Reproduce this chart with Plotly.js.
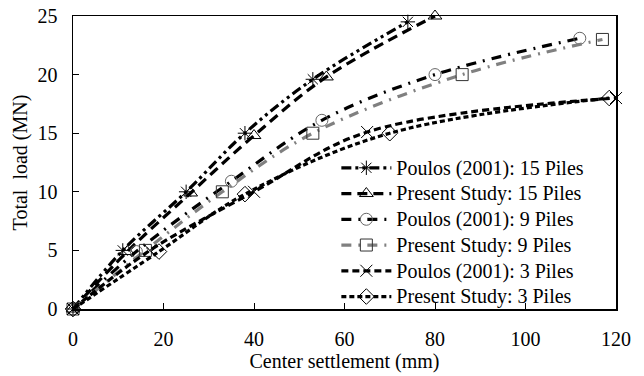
<!DOCTYPE html>
<html>
<head>
<meta charset="utf-8">
<script src="https://cdn.plot.ly/plotly-3.0.1.min.js"></script>
<style>html,body{margin:0;padding:0;background:#fff;}#chart{width:644px;height:376px;}</style>
</head>
<body>
<div id="chart"></div>
<script>
var seriesNames = ["Poulos (2001): 15 Piles", "Present Study: 15 Piles", "Poulos (2001): 9 Piles", "Present Study: 9 Piles", "Poulos (2001): 3 Piles", "Present Study: 3 Piles"];
var poulos15X = [0, 11, 25, 38, 53, 74];
var poulos15Y = [0, 5, 10, 15, 19.6, 24.5];
var present15X = [0, 12, 26, 40, 56, 80];
var present15Y = [0, 4.9, 9.9, 14.8, 19.8, 25];
var poulos9X = [0, 14, 35, 55, 80, 112];
var poulos9Y = [0, 4.9, 10.9, 16.1, 20, 23.1];
var present9X = [0, 16, 33, 53, 86, 117];
var present9Y = [0, 5, 10, 15, 20, 23];
var poulos3X = [0, 17, 40, 65, 120];
var poulos3Y = [0, 5, 10, 15.1, 18];
var present3X = [0, 19, 38, 70, 118.5];
var present3Y = [0, 4.9, 9.8, 15, 18];
var xTicks = [0, 20, 40, 60, 80, 100, 120];
var yTicks = [0, 5, 10, 15, 20, 25];

var fontFam = 'Liberation Serif, Times New Roman, serif';
function tr(x, y, name, color, dash, sym, mcolor) {
  return {
    x: x, y: y, name: '<span style="font-size:20px">' + name + '</span>', type: 'scatter', mode: 'lines+markers', cliponaxis: false,
    line: {color: color, width: 3.2, dash: dash, shape: 'spline', smoothing: 1},
    marker: {symbol: sym, size: 12, color: mcolor, line: {color: mcolor, width: 1}}
  };
}
var data = [
  tr(poulos15X, poulos15Y, seriesNames[0], '#000', '10px,4px,3px,4px,3px,4px', 'asterisk-open', '#000'),
  tr(present15X, present15Y, seriesNames[1], '#000', '10px,6px', 'triangle-up-open', '#000'),
  tr(poulos9X, poulos9Y, seriesNames[2], '#000', '10px,7px,2px,7px', 'circle-open', '#666'),
  tr(present9X, present9Y, seriesNames[3], '#808080', '10px,7px,2px,7px', 'square-open', '#333'),
  tr(poulos3X, poulos3Y, seriesNames[4], '#000', '7px,4px', 'x-thin-open', '#000'),
  tr(present3X, present3Y, seriesNames[5], '#000', '5px,3px', 'diamond-open', '#000')
];
var layout = {
  width: 644, height: 376,
  margin: {l: 73, r: 28, t: 16, b: 67},
  paper_bgcolor: '#fff', plot_bgcolor: '#fff',
  font: {family: fontFam, size: 20, color: '#000'},
  showlegend: true,
  legend: {x: 0.485, y: 0.543, xanchor: 'left', yanchor: 'top', bgcolor: 'rgba(0,0,0,0)', font: {family: fontFam, size: 17.5, color: '#000'}, itemwidth: 50, tracegroupgap: 0},
  xaxis: {
    range: [0, 120], tickvals: xTicks, ticktext: xTicks.map(String),
    ticks: 'inside', ticklen: 6, tickcolor: '#000', showgrid: false, zeroline: false,
    showline: true, linecolor: '#000', linewidth: 1.5, mirror: true, ticklabelstandoff: 11,
    title: {text: 'Center settlement (mm)', font: {family: fontFam, size: 20}, standoff: 0},
    tickfont: {family: fontFam, size: 20}
  },
  yaxis: {
    range: [0, 25], tickvals: yTicks, ticktext: yTicks.map(String),
    ticks: 'inside', ticklen: 6, tickcolor: '#000', showgrid: false, zeroline: false,
    showline: true, linecolor: '#000', linewidth: 1.5, mirror: true, ticklabelstandoff: 10,
    title: {text: 'Total\u00a0 load (MN)', font: {family: fontFam, size: 20}, standoff: 4},
    tickfont: {family: fontFam, size: 20}
  }
};
Plotly.newPlot('chart', data, layout, {displayModeBar: false, staticPlot: true});
</script>
</body>
</html>
